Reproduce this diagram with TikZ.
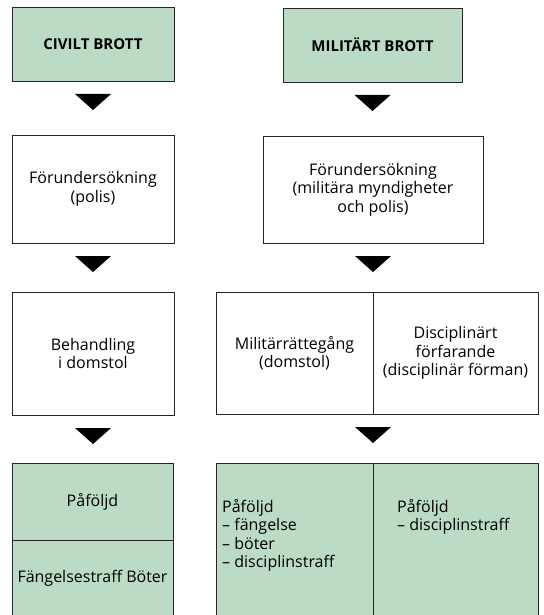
\documentclass[tikz,border=0pt]{standalone}
\usepackage{fontspec}
\setmainfont{Open Sans}
\usetikzlibrary{calc}

\definecolor{paleGreen}{RGB}{187,219,197}
\newcommand{\downtri}[1]{\fill[black] ($(#1)+(-18,13)$) -- ++(36,0) -- ($(#1)+(0,29)$) -- cycle;}

\begin{document}
\begin{tikzpicture}[x=1pt,y=-1pt,
  box/.style={draw=black!85, line width=0.8pt, fill=white, inner sep=0pt, outer sep=0pt,
              align=center, font=\fontsize{16}{18.5}\selectfont},
  greenbox/.style={box, fill=paleGreen},
  headbox/.style={greenbox, font=\fontsize{15}{18}\selectfont\bfseries},
  listtext/.style={anchor=base west, inner sep=0pt, align=left, font=\fontsize{16}{18.5}\selectfont}]
\useasboundingbox (0,0) rectangle (543,615);

% --- Civilt brott ---
\node[headbox, minimum width=162, minimum height=74] (civil) at (93,44) {CIVILT BROTT};
\node[box, minimum width=162, minimum height=108] (forciv) at (93,189) {Förundersökning\\(polis)};
\node[box, minimum width=162, minimum height=123] (domstol) at (93,353.5) {Behandling\\i domstol};
\node[greenbox, minimum width=161, minimum height=77] (pafciv) at (92.5,501.5) {Påföljd};
\node[greenbox, minimum width=161, minimum height=76, anchor=north] (straff) at (pafciv.south) {Fängelsestraff Böter};

\downtri{civil.south}
\downtri{forciv.south}
\downtri{domstol.south}

% --- Militart brott ---
\node[headbox, minimum width=179, minimum height=74] (mil) at (372.5,45) {MILITÄRT BROTT};
\node[box, minimum width=220, minimum height=107] (formil) at (373,189.5) {Förundersökning\\(militära myndigheter\\och polis)};
\node[box, minimum width=157, minimum height=122] (rattegang) at (294.5,353) {Militärrättegång\\(domstol)};
\node[box, minimum width=165, minimum height=122, anchor=west] (disc) at (rattegang.east) {Disciplinärt\\förfarande\\(disciplinär förman)};
\node[greenbox, minimum width=157, minimum height=153] (pafmil) at (294.5,539.5) {};
\node[greenbox, minimum width=165, minimum height=153, anchor=west] (pafdisc) at (pafmil.east) {};

% base of a list node is its last line
\node[listtext] (listmil) at ($(pafmil.north west)+(6,104.5)$) {Påföljd\\– fängelse\\– böter\\– disciplinstraff};
\node[listtext] (listdisc) at ($(pafdisc.north west)+(24,67.5)$) {Påföljd\\– disciplinstraff};

\downtri{mil.south}
\downtri{formil.south}
\downtri{rattegang.south east}

\end{tikzpicture}
\end{document}
